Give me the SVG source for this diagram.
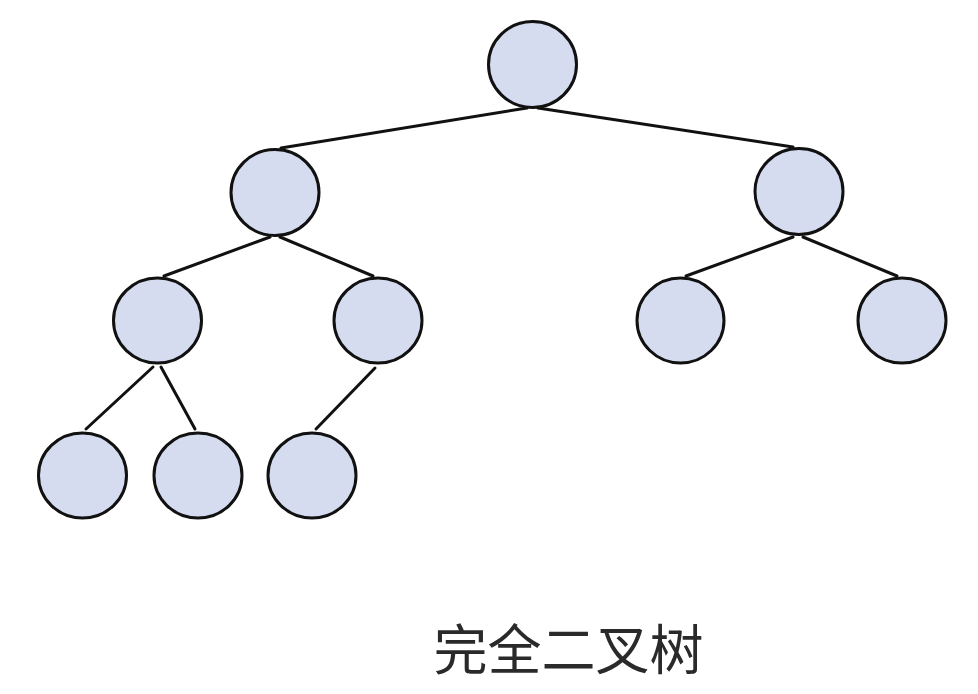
<svg xmlns="http://www.w3.org/2000/svg" width="978" height="694" viewBox="0 0 978 694">
<style>
.n{fill:#d5dcf0;stroke:#111;stroke-width:3}
.e{stroke:#111;stroke-width:3;stroke-linecap:round;fill:none}
.t{font-family:"Noto Sans CJK SC","Noto Sans",sans-serif;font-size:54px;fill:#2a2a2a}
</style>
<rect width="978" height="694" fill="#fff"/>
<g id="connectors">
<line class="e" x1="527" y1="108" x2="281" y2="148"/>
<line class="e" x1="538" y1="108" x2="793" y2="147"/>
<line class="e" x1="270" y1="237" x2="164" y2="276"/>
<line class="e" x1="280" y1="237" x2="373" y2="276"/>
<line class="e" x1="793" y1="237" x2="686" y2="276"/>
<line class="e" x1="803" y1="237" x2="897" y2="276"/>
<line class="e" x1="153" y1="367" x2="86" y2="429"/>
<line class="e" x1="161" y1="367" x2="195" y2="429"/>
<line class="e" x1="375" y1="368" x2="316" y2="429"/>
</g>
<g id="n1"><ellipse class="n" cx="532.5" cy="64.5" rx="44" ry="43"/></g>
<g id="n2"><ellipse class="n" cx="275" cy="192.5" rx="44" ry="43"/></g>
<g id="n3"><ellipse class="n" cx="799" cy="191.5" rx="44" ry="43"/></g>
<g id="n4"><ellipse class="n" cx="157.5" cy="320.5" rx="44" ry="42.5"/></g>
<g id="n5"><ellipse class="n" cx="378" cy="320.5" rx="44" ry="42.5"/></g>
<g id="n6"><ellipse class="n" cx="680.5" cy="320.5" rx="43.5" ry="42.5"/></g>
<g id="n7"><ellipse class="n" cx="902" cy="320.5" rx="44" ry="42.5"/></g>
<g id="n8"><ellipse class="n" cx="82.5" cy="475.5" rx="44" ry="42.5"/></g>
<g id="n9"><ellipse class="n" cx="198" cy="475.5" rx="44" ry="42.5"/></g>
<g id="n10"><ellipse class="n" cx="312" cy="475.5" rx="44" ry="42.5"/></g>
<text class="t" x="568.5" y="670" text-anchor="middle">完全二叉树</text>
</svg>
